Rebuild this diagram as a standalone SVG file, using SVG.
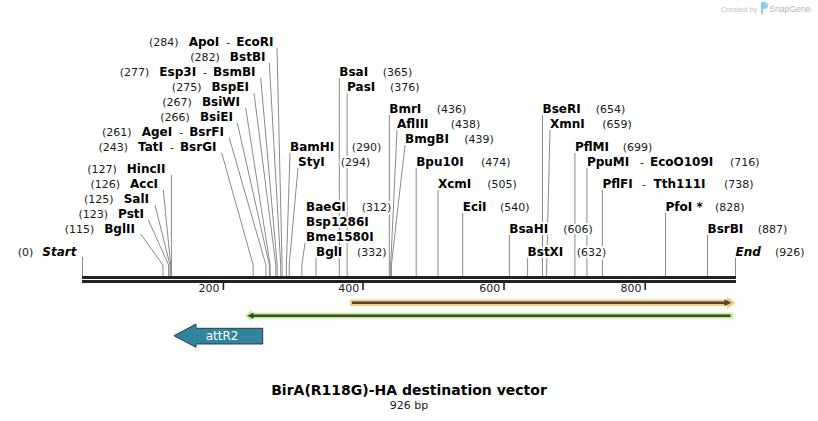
<svg xmlns="http://www.w3.org/2000/svg" width="818" height="421" viewBox="0 0 818 421">
<style>
text { font-family: "DejaVu Sans", Verdana, sans-serif; }
.n { font-size: 12px; font-weight: bold; fill: #000; }
.d { font-size: 11px; font-weight: normal; fill: #1a1a1a; }
.it { font-style: italic; }
.e { text-anchor: end; }
.lbl text { paint-order: stroke; stroke: #fff; stroke-width: 4px; stroke-linejoin: round; }
.cn path { fill: none; stroke: #8a8a8a; stroke-width: 1; }
.tk { font-size: 11px; fill: #1a1a1a; text-anchor: end; }
</style>
<rect width="818" height="421" fill="#fff"/>

<g id="watermark">
<text x="720.7" y="11.5" style="font-family:'Liberation Sans', Arial, sans-serif" font-size="7.5" fill="#c4c4c4">Created by</text>
<path d="M761,2 h3 a4,3.5 0 0 1 0,7 h-1 v5 h-2 z" fill="#8fcdee"/>
<text x="769.3" y="12" style="font-family:'Liberation Sans', Arial, sans-serif" font-size="8.6" fill="#b4b4b4">SnapGene</text>
</g>

<g id="connectors" class="cn">
<path d="M277,48 L282.1,265 V276"/>
<path d="M269.3,63 L280.7,265 V276"/>
<path d="M260.7,78 L277.2,265 V276"/>
<path d="M254,93 L275.8,265 V276"/>
<path d="M245.7,108 L270.1,265 V276"/>
<path d="M237.3,123 L269.4,265 V276"/>
<path d="M229.3,138 L265.9,265 V276"/>
<path d="M221.7,153 L253.2,265 V276"/>
<path d="M171.4,175 V276"/>
<path d="M163.3,190 L170.7,265 V276"/>
<path d="M155,205 L170,265 V276"/>
<path d="M148.3,220 L168.6,265 V276"/>
<path d="M140.7,234 L162.9,265 V276"/>
<path d="M82.5,257 V276"/>
<path d="M339.3,78 V276"/>
<path d="M347.1,93 V276"/>
<path d="M389.3,115 V276"/>
<path d="M397,130 L390.7,265 V276"/>
<path d="M405,145 L391.4,265 V276"/>
<path d="M290,153 L286.4,265 V276"/>
<path d="M298,168 L289.2,265 V276"/>
<path d="M416.2,168 V276"/>
<path d="M438,190 V276"/>
<path d="M462.7,213 V276"/>
<path d="M305,243 L301.9,265 V276"/>
<path d="M316,258 V276"/>
<path d="M542.5,115 V276"/>
<path d="M550,130 L546.7,265 V276"/>
<path d="M574.9,153 V276"/>
<path d="M586.9,168 V276"/>
<path d="M602.4,190 V276"/>
<path d="M665.5,213 V276"/>
<path d="M509.3,235 V276"/>
<path d="M707.5,235 V276"/>
<path d="M527.6,258 V276"/>
<path d="M735.5,257 V276"/>
</g>

<g id="map">
<rect x="82" y="276" width="654" height="3" fill="#222"/>
<rect x="82" y="280" width="654" height="3" fill="#222"/>
<rect x="222.6" y="283" width="1.6" height="7" fill="#222"/>
<rect x="362.2" y="283" width="1.6" height="7" fill="#222"/>
<rect x="503.2" y="283" width="1.6" height="7" fill="#222"/>
<rect x="644.4" y="283" width="1.6" height="7" fill="#222"/>
<text class="tk" x="219.5" y="292">200</text>
<text class="tk" x="359.3" y="292">400</text>
<text class="tk" x="500.3" y="292">600</text>
<text class="tk" x="641.5" y="292">800</text>
</g>

<g id="feature-orange">
<rect x="350" y="299.5" width="378" height="6.5" fill="#f9c97a"/>
<polygon points="727,296.8 735.5,302.7 727,308.6" fill="#f9c97a"/>
<line x1="352" y1="302.7" x2="726" y2="302.7" stroke="#4a4a3c" stroke-width="2.6"/>
<polygon points="724.5,299.3 731.5,302.7 724.5,306.1" fill="#4a4a3c"/>
</g>
<g id="feature-green">
<rect x="251" y="312.7" width="482" height="6" fill="#c3f08c"/>
<polygon points="252,309.8 245,315.7 252,321.6" fill="#c3f08c"/>
<line x1="253" y1="315.7" x2="730.5" y2="315.7" stroke="#3f4a36" stroke-width="2.6"/>
<polygon points="253.5,312.5 247.3,315.7 253.5,318.9" fill="#3f4a36"/>
</g>
<g id="attR2">
<polygon points="174,335.7 196,324 196,328.3 262.7,328.3 262.7,344 196,344 196,347.3" fill="#31849b" stroke="#2b3c44" stroke-width="1"/>
<text x="222" y="339.5" font-size="12" fill="#fff" text-anchor="middle">attR2</text>
</g>

<g class="lbl">
<g id="ApoI-EcoRI"><text class="e" x="273.5" y="46"><tspan class="d">(284)</tspan><tspan class="n" dx="10">ApoI</tspan><tspan class="d" dx="7">-</tspan><tspan class="n" dx="6">EcoRI</tspan></text></g>
<g id="BstBI"><text class="e" x="265.5" y="61"><tspan class="d">(282)</tspan><tspan class="n" dx="10">BstBI</tspan></text></g>
<g id="Esp3I-BsmBI"><text class="e" x="255.5" y="76"><tspan class="d">(277)</tspan><tspan class="n" dx="10">Esp3I</tspan><tspan class="d" dx="7">-</tspan><tspan class="n" dx="6">BsmBI</tspan></text></g>
<g id="BspEI"><text class="e" x="249" y="91"><tspan class="d">(275)</tspan><tspan class="n" dx="10">BspEI</tspan></text></g>
<g id="BsiWI"><text class="e" x="240" y="106"><tspan class="d">(267)</tspan><tspan class="n" dx="10">BsiWI</tspan></text></g>
<g id="BsiEI"><text class="e" x="233" y="121"><tspan class="d">(266)</tspan><tspan class="n" dx="10">BsiEI</tspan></text></g>
<g id="AgeI-BsrFI"><text class="e" x="224" y="136"><tspan class="d">(261)</tspan><tspan class="n" dx="10">AgeI</tspan><tspan class="d" dx="7">-</tspan><tspan class="n" dx="6">BsrFI</tspan></text></g>
<g id="TatI-BsrGI"><text class="e" x="216.5" y="151"><tspan class="d">(243)</tspan><tspan class="n" dx="10">TatI</tspan><tspan class="d" dx="7">-</tspan><tspan class="n" dx="6">BsrGI</tspan></text></g>
<g id="HincII"><text class="e" x="165.5" y="172.5"><tspan class="d">(127)</tspan><tspan class="n" dx="10">HincII</tspan></text></g>
<g id="AccI"><text class="e" x="158" y="187.5"><tspan class="d">(126)</tspan><tspan class="n" dx="10">AccI</tspan></text></g>
<g id="SalI"><text class="e" x="149" y="202.5"><tspan class="d">(125)</tspan><tspan class="n" dx="10">SalI</tspan></text></g>
<g id="PstI"><text class="e" x="144" y="217.5"><tspan class="d">(123)</tspan><tspan class="n" dx="10">PstI</tspan></text></g>
<g id="BglII"><text class="e" x="135" y="232.5"><tspan class="d">(115)</tspan><tspan class="n" dx="10">BglII</tspan></text></g>
<g id="Start"><text class="e" x="76.5" y="256"><tspan class="d">(0)</tspan><tspan class="n it" dx="9">Start</tspan></text></g>

<g id="BsaI"><text class="n" x="339.3" y="76">BsaI</text><text class="d" x="382.7" y="76">(365)</text></g>
<g id="PasI"><text class="n" x="347.1" y="91">PasI</text><text class="d" x="390" y="91">(376)</text></g>
<g id="BmrI"><text class="n" x="389.3" y="113">BmrI</text><text class="d" x="436.7" y="113">(436)</text></g>
<g id="AflIII"><text class="n" x="397" y="128">AflIII</text><text class="d" x="450.7" y="128">(438)</text></g>
<g id="BmgBI"><text class="n" x="405" y="143">BmgBI</text><text class="d" x="464.3" y="143">(439)</text></g>
<g id="BamHI"><text class="n" x="290" y="151">BamHI</text><text class="d" x="351.7" y="151">(290)</text></g>
<g id="StyI"><text class="n" x="298" y="166">StyI</text><text class="d" x="340.7" y="166">(294)</text></g>
<g id="Bpu10I"><text class="n" x="416.2" y="166">Bpu10I</text><text class="d" x="481" y="166">(474)</text></g>
<g id="XcmI"><text class="n" x="438" y="188">XcmI</text><text class="d" x="487.3" y="188">(505)</text></g>
<g id="EciI"><text class="n" x="462.7" y="211">EciI</text><text class="d" x="500" y="211">(540)</text></g>
<g id="BaeGI-Bsp1286I-Bme1580I"><text class="n" x="306" y="211">BaeGI</text><text class="d" x="361.7" y="211">(312)</text><text class="n" x="306" y="226">Bsp1286I</text><text class="n" x="306" y="241">Bme1580I</text></g>
<g id="BglI"><text class="n" x="316" y="256">BglI</text><text class="d" x="357" y="256">(332)</text></g>
<g id="BseRI"><text class="n" x="542.5" y="113">BseRI</text><text class="d" x="595.7" y="113">(654)</text></g>
<g id="XmnI"><text class="n" x="550" y="128">XmnI</text><text class="d" x="602.3" y="128">(659)</text></g>
<g id="PflMI"><text class="n" x="574.9" y="151">PflMI</text><text class="d" x="622.7" y="151">(699)</text></g>
<g id="PpuMI-EcoO109I"><text class="n" x="586.9" y="166">PpuMI</text><text class="d" x="640" y="166">-</text><text class="n" x="650" y="166">EcoO109I</text><text class="d" x="730" y="166">(716)</text></g>
<g id="PflFI-Tth111I"><text class="n" x="602.4" y="188">PflFI</text><text class="d" x="642" y="188">-</text><text class="n" x="653.5" y="188">Tth111I</text><text class="d" x="724" y="188">(738)</text></g>
<g id="PfoI"><text class="n" x="665.5" y="211">PfoI *</text><text class="d" x="715" y="211">(828)</text></g>
<g id="BsaHI"><text class="n" x="509.3" y="233">BsaHI</text><text class="d" x="563.3" y="233">(606)</text></g>
<g id="BsrBI"><text class="n" x="707.5" y="233">BsrBI</text><text class="d" x="757.7" y="233">(887)</text></g>
<g id="BstXI"><text class="n" x="527.6" y="256">BstXI</text><text class="d" x="576.7" y="256">(632)</text></g>
<g id="End"><text class="n it" x="735.5" y="256">End</text><text class="d" x="775" y="256">(926)</text></g>
</g>

<g id="title">
<text x="409" y="395" font-size="14" font-weight="bold" text-anchor="middle" fill="#000">BirA(R118G)-HA destination vector</text>
<text x="409" y="408.5" font-size="11" text-anchor="middle" fill="#1a1a1a">926 bp</text>
</g>
</svg>
